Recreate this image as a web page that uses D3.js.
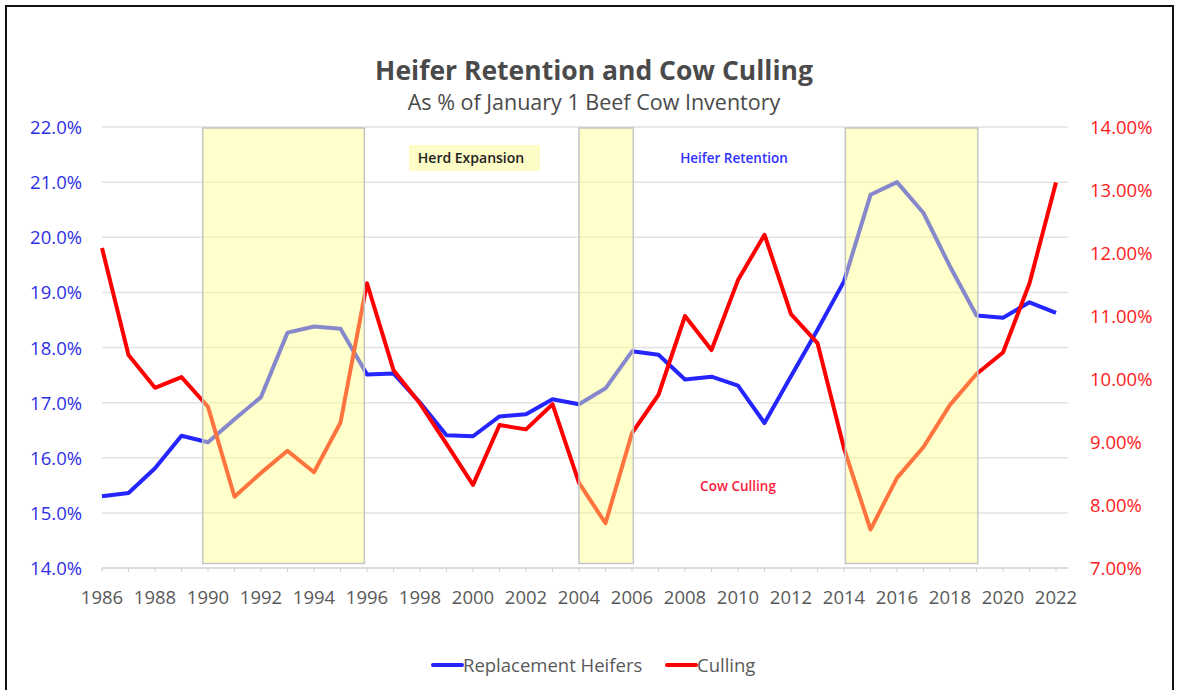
<!DOCTYPE html>
<html lang="en">
<head>
    <meta charset="UTF-8">
    <title>Heifer Retention and Cow Culling</title>
    <script src="https://cdn.jsdelivr.net/npm/d3@7"></script>
    <style>
        body { margin: 0; background: #fff; }
        text { font-family: "Open Sans", "Liberation Sans", sans-serif; }
    </style>
</head>
<body>
<div id="chart"></div>
<script>
    // data
    const years = d3.range(1986, 2023);
    const heifers = [15.30, 15.36, 15.81, 16.40, 16.28, 16.70, 17.10, 18.27, 18.38, 18.34,
        17.51, 17.53, 17.00, 16.41, 16.39, 16.75, 16.79, 17.06, 16.97, 17.26,
        17.93, 17.87, 17.42, 17.47, 17.31, 16.63, 17.48, 18.32, 19.20, 20.77,
        21.00, 20.44, 19.47, 18.58, 18.54, 18.82, 18.63];
    const culling = [12.08, 10.38, 9.86, 10.03, 9.56, 8.13, 8.51, 8.86, 8.52, 9.31,
        11.52, 10.14, 9.61, 8.97, 8.32, 9.27, 9.20, 9.60, 8.35, 7.71,
        9.14, 9.75, 11.00, 10.46, 11.57, 12.29, 11.03, 10.57, 8.90, 7.61,
        8.43, 8.92, 9.59, 10.08, 10.42, 11.52, 13.12];
    const leftTicks = [14, 15, 16, 17, 18, 19, 20, 21, 22];
    const rightTicks = [7, 8, 9, 10, 11, 12, 13, 14];
    const xTicks = d3.range(1986, 2023, 2);
    const expansions = [[1989.8, 1995.9], [2004.0, 2006.05], [2014.05, 2019.05]];

    const W = 1180, H = 690;
    const svg = d3.select("#chart").append("svg")
        .attr("width", W)
        .attr("height", H);

    // outer frame
    svg.append("rect")
        .attr("x", 6).attr("y", 6)
        .attr("width", 1167).attr("height", 700)
        .attr("fill", "none")
        .attr("stroke", "#111")
        .attr("stroke-width", 2);

    const x = d3.scaleLinear().domain([1986, 2022]).range([102, 1056]);
    const yL = d3.scaleLinear().domain([14, 22]).range([568, 127]);
    const yR = d3.scaleLinear().domain([7, 14]).range([568, 127]);

    // gridlines
    svg.append("g").selectAll("line")
        .data(leftTicks)
        .enter().append("line")
        .attr("x1", 102).attr("x2", 1068)
        .attr("y1", d => yL(d)).attr("y2", d => yL(d))
        .attr("stroke", d => d === 14 ? "#d0d0d0" : "#e2e2e2")
        .attr("stroke-width", 1.5);

    // small ticks on the base line
    svg.append("g").selectAll("line")
        .data(years)
        .enter().append("line")
        .attr("x1", d => x(d)).attr("x2", d => x(d))
        .attr("y1", yL(14)).attr("y2", yL(14) + 4)
        .attr("stroke", "#d0d0d0");

    // left axis labels
    svg.append("g").selectAll("text")
        .data(leftTicks)
        .enter().append("text")
        .attr("x", 82)
        .attr("y", d => yL(d) + 7)
        .attr("text-anchor", "end")
        .attr("font-size", 18.5)
        .attr("fill", "#2f2fe6")
        .text(d => d.toFixed(1) + "%");

    // right axis labels
    svg.append("g").selectAll("text")
        .data(rightTicks)
        .enter().append("text")
        .attr("x", 1090)
        .attr("y", d => yR(d) + 7)
        .attr("font-size", 18.5)
        .attr("fill", "#ff1a1a")
        .text(d => d.toFixed(2) + "%");

    // x labels
    svg.append("g").selectAll("text")
        .data(xTicks)
        .enter().append("text")
        .attr("x", d => x(d))
        .attr("y", 604)
        .attr("text-anchor", "middle")
        .attr("font-size", 18.5)
        .attr("fill", "#595959")
        .text(d => d);

    // series
    const lineL = d3.line().x((d, i) => x(years[i])).y(d => yL(d));
    const lineR = d3.line().x((d, i) => x(years[i])).y(d => yR(d));

    svg.append("path")
        .attr("d", lineL(heifers))
        .attr("fill", "none")
        .attr("stroke", "#2525ff")
        .attr("stroke-width", 4)
        .attr("stroke-linejoin", "round");

    svg.append("path")
        .attr("d", lineR(culling))
        .attr("fill", "none")
        .attr("stroke", "#ff0000")
        .attr("stroke-width", 4)
        .attr("stroke-linejoin", "round");

    // herd expansion shading on top of the lines
    svg.append("g").selectAll("rect")
        .data(expansions)
        .enter().append("rect")
        .attr("x", d => x(d[0]))
        .attr("y", yL(22) + 1)
        .attr("width", d => x(d[1]) - x(d[0]))
        .attr("height", yL(14.1) - yL(22))
        .attr("fill", "rgba(255,255,140,0.45)")
        .attr("stroke", "#c4c4c4")
        .attr("stroke-width", 1.5);

    // annotations
    svg.append("rect")
        .attr("x", 409).attr("y", 145)
        .attr("width", 131).attr("height", 26)
        .attr("fill", "#fdfcc6");
    svg.append("text")
        .attr("x", 471).attr("y", 163)
        .attr("text-anchor", "middle")
        .attr("font-size", 14)
        .attr("font-weight", 600)
        .attr("fill", "#222")
        .text("Herd Expansion");
    svg.append("text")
        .attr("x", 734).attr("y", 163)
        .attr("text-anchor", "middle")
        .attr("font-size", 13.5)
        .attr("font-weight", 600)
        .attr("fill", "#3030ff")
        .text("Heifer Retention");
    svg.append("text")
        .attr("x", 738).attr("y", 491)
        .attr("text-anchor", "middle")
        .attr("font-size", 13.5)
        .attr("font-weight", 600)
        .attr("fill", "#ff1a3a")
        .text("Cow Culling");

    // titles
    svg.append("text")
        .attr("x", 594).attr("y", 80)
        .attr("text-anchor", "middle")
        .attr("font-size", 26.5)
        .attr("font-weight", 700)
        .attr("fill", "#4a4a4a")
        .text("Heifer Retention and Cow Culling");
    svg.append("text")
        .attr("x", 594).attr("y", 110)
        .attr("text-anchor", "middle")
        .attr("font-size", 21.5)
        .attr("fill", "#4a4a4a")
        .text("As % of January 1 Beef Cow Inventory");

    // legend
    const legend = [
        {name: "Replacement Heifers", color: "#2525ff", x: 433},
        {name: "Culling", color: "#ff0000", x: 667}
    ];
    const lg = svg.append("g").selectAll("g")
        .data(legend)
        .enter().append("g")
        .attr("transform", d => `translate(${d.x}, 665)`);
    lg.append("line")
        .attr("x1", 0).attr("x2", 29)
        .attr("stroke", d => d.color)
        .attr("stroke-width", 4)
        .attr("stroke-linecap", "round");
    lg.append("text")
        .attr("x", 30).attr("y", 7)
        .attr("font-size", 18.5)
        .attr("fill", "#595959")
        .text(d => d.name);
</script>
</body>
</html>
